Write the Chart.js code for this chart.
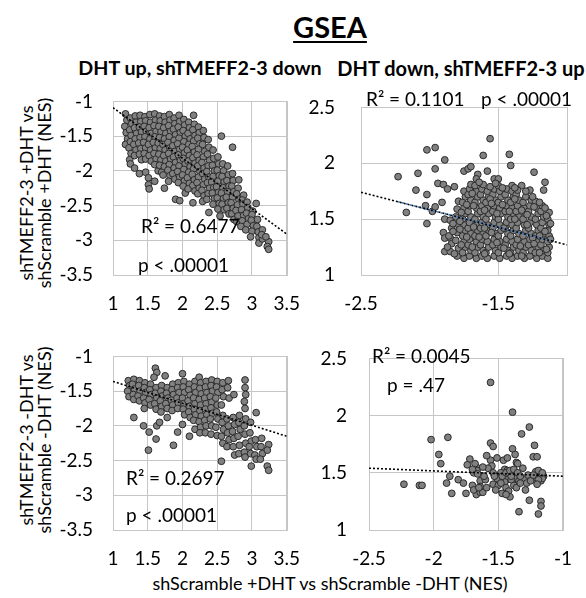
<!DOCTYPE html>
<html>
<head>
<meta charset="utf-8">
<script src="https://cdn.jsdelivr.net/npm/chart.js@4.4.0/dist/chart.umd.min.js"></script>
<style>
  body { margin:0; width:586px; height:598px; overflow:hidden; background:#fff; position:relative; font-family:Lato, 'Open Sans', sans-serif; color:#000; }
  canvas { position:absolute; }
  .t { position:absolute; white-space:nowrap; line-height:1; }
  .c { transform:translateX(-50%); }
  .rot { transform:translate(-50%,-50%) rotate(-90deg); text-align:center; line-height:18px; font-size:18px; }
  .note { font-size:19px; }
</style>
</head>
<body>
<div class="t c" style="left:330px;top:12px;font-size:29px;font-weight:bold;text-decoration:underline;text-decoration-thickness:2px;text-underline-offset:3px">GSEA</div>
<div class="t c" style="left:200px;top:58px;font-size:19.7px;font-weight:bold">DHT up, shTMEFF2-3 down</div>
<div class="t c" style="left:461px;top:58px;font-size:20px;font-weight:bold">DHT down, shTMEFF2-3 up</div>
<div class="t rot" style="left:35px;top:193px">shTMEFF2-3 +DHT vs<br>shScramble +DHT (NES)</div>
<div class="t rot" style="left:35px;top:440px">shTMEFF2-3 -DHT vs<br>shScramble -DHT (NES)</div>
<div class="t c" style="left:330px;top:574px;font-size:18px">shScramble +DHT vs shScramble -DHT (NES)</div>

<canvas id="tl" width="264" height="250" style="left:53px;top:70px"></canvas>
<canvas id="tr" width="286" height="250" style="left:301px;top:70px"></canvas>
<canvas id="bl" width="264" height="250" style="left:53px;top:325px"></canvas>
<canvas id="br" width="280" height="250" style="left:309px;top:325px"></canvas>

<div class="t note" style="left:141px;top:216px">R² = 0.6477</div>
<div class="t note" style="left:138px;top:255px">p &lt; .00001</div>
<div class="t note" style="left:366px;top:89px">R² = 0.1101</div>
<div class="t note" style="left:481px;top:89px">p &lt; .00001</div>
<div class="t note" style="left:126px;top:468px">R² = 0.2697</div>
<div class="t note" style="left:126px;top:505px">p &lt; .00001</div>
<div class="t note" style="left:372px;top:346px">R² = 0.0045</div>
<div class="t note" style="left:387px;top:375px">p = .47</div>

<script>
// tick labels
const xTicksPos = [1, 1.5, 2, 2.5, 3, 3.5];
const yTicksNeg = [-3.5, -3, -2.5, -2, -1.5, -1];
const xTicksTopRight = [-2.5, -1.5];
const xTicksBottomRight = [-2.5, -2, -1.5, -1];
const yTicksPos = [1, 1.5, 2, 2.5];

// DHT up, shTMEFF2-3 down, +DHT
const upPlusDht = [
[1.18,-1.18],[1.20,-1.27],[1.17,-1.36],[1.19,-1.45],[1.21,-1.54],[1.18,-1.62],
[1.25,-1.24],[1.27,-1.32],[1.24,-1.41],[1.26,-1.49],[1.25,-1.58],[1.23,-1.67],[1.26,-1.75],[1.24,-1.84],[1.25,-1.90],
[1.32,-1.21],[1.33,-1.30],[1.31,-1.38],[1.34,-1.46],[1.32,-1.54],[1.30,-1.62],[1.33,-1.70],[1.31,-1.78],[1.31,-1.96],
[1.39,-1.20],[1.40,-1.29],[1.38,-1.37],[1.41,-1.44],[1.39,-1.52],[1.37,-1.60],[1.40,-1.68],[1.38,-1.76],[1.41,-1.84],[1.38,-2.04],
[1.46,-1.22],[1.47,-1.28],[1.45,-1.36],[1.48,-1.43],[1.46,-1.51],[1.44,-1.59],[1.47,-1.67],[1.45,-1.75],[1.47,-1.83],[1.47,-2.02],
[1.53,-1.19],[1.54,-1.30],[1.52,-1.38],[1.55,-1.46],[1.53,-1.54],[1.51,-1.62],[1.54,-1.70],[1.52,-1.78],[1.55,-1.86],[1.51,-2.10],[1.51,-2.20],[1.52,-2.26],
[1.60,-1.18],[1.61,-1.27],[1.59,-1.35],[1.62,-1.43],[1.60,-1.51],[1.58,-1.59],[1.61,-1.67],[1.59,-1.75],[1.62,-1.83],[1.60,-1.91],[1.65,-2.00],[1.60,-2.15],
[1.67,-1.21],[1.68,-1.28],[1.66,-1.36],[1.69,-1.44],[1.67,-1.52],[1.65,-1.60],[1.68,-1.68],[1.66,-1.76],[1.69,-1.84],[1.67,-1.92],[1.70,-2.02],
[1.74,-1.22],[1.75,-1.30],[1.73,-1.38],[1.76,-1.46],[1.74,-1.54],[1.72,-1.62],[1.75,-1.70],[1.73,-1.78],[1.76,-1.86],[1.74,-1.94],[1.72,-2.06],[1.74,-2.25],
[1.81,-1.19],[1.82,-1.27],[1.80,-1.35],[1.83,-1.43],[1.81,-1.51],[1.79,-1.59],[1.82,-1.67],[1.80,-1.75],[1.83,-1.83],[1.81,-1.91],[1.79,-1.99],[1.82,-2.07],[1.80,-2.15],
[1.88,-1.24],[1.89,-1.32],[1.87,-1.40],[1.90,-1.48],[1.88,-1.56],[1.86,-1.64],[1.89,-1.72],[1.87,-1.80],[1.90,-1.88],[1.88,-1.96],[1.86,-2.04],[1.89,-2.12],[1.90,-2.41],
[1.95,-1.20],[1.96,-1.29],[1.94,-1.37],[1.97,-1.45],[1.95,-1.53],[1.93,-1.61],[1.96,-1.69],[1.94,-1.77],[1.97,-1.85],[1.95,-1.93],[1.93,-2.01],[1.96,-2.09],[1.94,-2.17],[1.96,-2.43],
[2.02,-1.26],[2.03,-1.34],[2.01,-1.42],[2.04,-1.50],[2.02,-1.58],[2.00,-1.66],[2.03,-1.74],[2.01,-1.82],[2.04,-1.90],[2.02,-1.98],[2.00,-2.06],[2.03,-2.14],[2.01,-2.22],[2.04,-2.32],
[2.09,-1.30],[2.10,-1.38],[2.08,-1.46],[2.11,-1.54],[2.09,-1.62],[2.07,-1.70],[2.10,-1.78],[2.08,-1.86],[2.11,-1.94],[2.09,-2.02],[2.07,-2.10],[2.10,-2.18],[2.08,-2.26],
[2.16,-1.20],[2.17,-1.33],[2.15,-1.41],[2.18,-1.49],[2.16,-1.57],[2.14,-1.65],[2.17,-1.73],[2.15,-1.81],[2.18,-1.89],[2.16,-1.97],[2.14,-2.05],[2.17,-2.13],[2.15,-2.21],[2.18,-2.29],[2.15,-2.46],
[2.23,-1.37],[2.24,-1.45],[2.22,-1.53],[2.25,-1.61],[2.23,-1.69],[2.21,-1.77],[2.24,-1.85],[2.22,-1.93],[2.25,-2.01],[2.23,-2.09],[2.21,-2.17],[2.24,-2.25],[2.22,-2.33],
[2.30,-1.42],[2.31,-1.52],[2.29,-1.62],[2.32,-1.72],[2.30,-1.80],[2.28,-1.88],[2.31,-1.96],[2.29,-2.04],[2.32,-2.12],[2.30,-2.20],[2.28,-2.28],[2.31,-2.36],[2.29,-2.44],
[2.37,-1.55],[2.38,-1.66],[2.36,-1.76],[2.39,-1.85],[2.37,-1.93],[2.35,-2.01],[2.38,-2.09],[2.36,-2.17],[2.39,-2.25],[2.37,-2.33],[2.35,-2.41],[2.38,-2.60],
[2.44,-1.70],[2.45,-1.82],[2.43,-1.92],[2.46,-2.00],[2.44,-2.08],[2.42,-2.16],[2.45,-2.24],[2.43,-2.32],[2.46,-2.40],[2.44,-2.48],
[2.56,-1.50],[2.51,-1.80],[2.52,-1.90],[2.50,-1.99],[2.53,-2.07],[2.51,-2.15],[2.49,-2.23],[2.52,-2.31],[2.50,-2.39],[2.53,-2.47],[2.51,-2.55],[2.54,-2.65],
[2.58,-1.90],[2.59,-2.00],[2.57,-2.08],[2.60,-2.16],[2.58,-2.24],[2.56,-2.32],[2.59,-2.40],[2.57,-2.48],[2.60,-2.56],
[2.72,-1.66],[2.65,-1.93],[2.66,-2.06],[2.64,-2.14],[2.67,-2.22],[2.65,-2.30],[2.63,-2.38],[2.66,-2.46],[2.64,-2.54],[2.67,-2.62],
[2.72,-2.04],[2.73,-2.14],[2.71,-2.22],[2.74,-2.30],[2.72,-2.38],[2.70,-2.46],[2.73,-2.54],[2.71,-2.62],[2.74,-2.70],
[2.81,-2.13],[2.80,-2.25],[2.78,-2.33],[2.81,-2.41],[2.79,-2.49],[2.77,-2.57],[2.80,-2.65],[2.78,-2.73],
[2.88,-2.35],[2.86,-2.42],[2.87,-2.48],[2.85,-2.56],[2.88,-2.64],[2.86,-2.72],[2.84,-2.80],
[2.93,-2.45],[2.94,-2.53],[2.92,-2.61],[2.95,-2.69],[2.93,-2.77],[2.91,-2.85],
[3.06,-2.47],[3.01,-2.58],[3.00,-2.63],[2.99,-2.71],[3.02,-2.79],[3.00,-2.87],[2.98,-2.95],
[3.08,-2.70],[3.07,-2.80],[3.09,-2.88],[3.10,-2.96],[3.10,-3.04],
[3.15,-2.85],[3.15,-2.98],[3.14,-2.92],
[3.24,-3.02],[3.22,-3.09],[3.24,-3.13],[3.20,-2.95]
];

// DHT down, shTMEFF2-3 up, +DHT
const downPlusDht = [
[-2.23,1.88],[-2.085,1.91],[-2.02,2.12],[-1.96,2.14],[-1.89,2.03],[-1.96,1.95],[-2.10,1.76],[-2.02,1.72],
[-2.17,1.56],[-1.98,1.57],[-2.02,1.46],[-1.91,1.65],[-1.94,1.82],[-1.90,1.81],[-1.87,1.77],[-1.82,1.79],
[-1.75,1.93],[-1.72,1.95],[-1.70,1.97],[-1.65,1.90],[-1.61,2.07],[-1.56,2.22],[-1.58,1.93],[-1.53,1.86],
[-1.50,1.86],[-1.42,2.08],[-1.41,1.98],[-1.40,1.80],[-1.33,1.80],[-1.24,1.92],[-1.16,1.83],[-1.17,1.76],
[-1.27,1.76],[-1.96,1.61],[-1.89,1.50],[-1.90,1.38],[-1.89,1.33],[-1.85,1.33],[-1.89,1.21],[-2.03,1.62],
[-1.85,1.21],[-1.84,1.28],[-1.86,1.35],[-1.84,1.42],[-1.85,1.49],
[-1.80,1.17],[-1.79,1.24],[-1.81,1.31],[-1.80,1.38],[-1.79,1.45],[-1.81,1.52],[-1.80,1.59],[-1.79,1.66],
[-1.75,1.15],[-1.76,1.20],[-1.74,1.25],[-1.75,1.30],[-1.76,1.35],[-1.74,1.40],[-1.75,1.45],[-1.76,1.50],[-1.74,1.55],[-1.75,1.60],[-1.76,1.65],[-1.74,1.70],[-1.75,1.75],
[-1.71,1.17],[-1.70,1.22],[-1.72,1.27],[-1.71,1.32],[-1.70,1.37],[-1.72,1.42],[-1.71,1.47],[-1.70,1.52],[-1.72,1.57],[-1.71,1.62],[-1.70,1.67],[-1.72,1.72],[-1.71,1.77],[-1.70,1.81],
[-1.66,1.15],[-1.67,1.20],[-1.65,1.25],[-1.66,1.30],[-1.67,1.35],[-1.65,1.40],[-1.66,1.45],[-1.67,1.50],[-1.65,1.55],[-1.66,1.60],[-1.67,1.65],[-1.65,1.70],[-1.66,1.75],[-1.67,1.80],[-1.66,1.86],
[-1.62,1.17],[-1.61,1.22],[-1.63,1.27],[-1.62,1.32],[-1.61,1.37],[-1.63,1.42],[-1.62,1.47],[-1.61,1.52],[-1.63,1.57],[-1.62,1.62],[-1.61,1.67],[-1.63,1.72],[-1.62,1.77],[-1.61,1.81],
[-1.58,1.15],[-1.59,1.20],[-1.57,1.25],[-1.58,1.30],[-1.59,1.35],[-1.57,1.40],[-1.58,1.45],[-1.59,1.50],[-1.57,1.55],[-1.58,1.60],[-1.59,1.65],[-1.57,1.70],[-1.58,1.75],
[-1.53,1.17],[-1.52,1.22],[-1.54,1.27],[-1.53,1.32],[-1.52,1.37],[-1.54,1.42],[-1.53,1.47],[-1.52,1.52],[-1.54,1.57],[-1.53,1.62],[-1.52,1.67],[-1.54,1.72],[-1.53,1.77],
[-1.49,1.15],[-1.50,1.20],[-1.48,1.25],[-1.49,1.30],[-1.50,1.35],[-1.48,1.40],[-1.49,1.45],[-1.50,1.50],[-1.48,1.55],[-1.49,1.60],[-1.50,1.65],[-1.48,1.70],[-1.49,1.75],[-1.50,1.80],
[-1.44,1.17],[-1.43,1.22],[-1.45,1.27],[-1.44,1.32],[-1.43,1.37],[-1.45,1.42],[-1.44,1.47],[-1.43,1.52],[-1.45,1.57],[-1.44,1.62],[-1.43,1.67],[-1.45,1.72],[-1.44,1.77],
[-1.40,1.15],[-1.41,1.20],[-1.39,1.25],[-1.40,1.30],[-1.41,1.35],[-1.39,1.40],[-1.40,1.45],[-1.41,1.50],[-1.39,1.55],[-1.40,1.60],[-1.41,1.65],[-1.39,1.70],[-1.40,1.75],
[-1.36,1.17],[-1.35,1.22],[-1.37,1.27],[-1.36,1.32],[-1.35,1.37],[-1.37,1.42],[-1.36,1.47],[-1.35,1.52],[-1.37,1.57],[-1.36,1.62],[-1.35,1.67],[-1.37,1.72],[-1.36,1.76],
[-1.31,1.15],[-1.32,1.20],[-1.30,1.25],[-1.31,1.30],[-1.32,1.35],[-1.30,1.40],[-1.31,1.45],[-1.32,1.50],[-1.30,1.55],[-1.31,1.60],[-1.32,1.65],[-1.30,1.70],
[-1.27,1.17],[-1.26,1.22],[-1.28,1.27],[-1.27,1.32],[-1.26,1.37],[-1.28,1.42],[-1.27,1.47],[-1.26,1.52],[-1.28,1.57],[-1.27,1.62],[-1.26,1.67],
[-1.22,1.15],[-1.23,1.20],[-1.21,1.25],[-1.22,1.30],[-1.23,1.35],[-1.21,1.40],[-1.22,1.45],[-1.23,1.50],[-1.21,1.55],[-1.22,1.60],[-1.23,1.66],
[-1.18,1.17],[-1.17,1.22],[-1.19,1.27],[-1.18,1.32],[-1.17,1.37],[-1.19,1.42],[-1.18,1.47],[-1.17,1.52],[-1.19,1.57],[-1.18,1.62],
[-1.14,1.15],[-1.14,1.20],[-1.13,1.25],[-1.14,1.30],[-1.13,1.35],[-1.14,1.40],[-1.13,1.45],[-1.14,1.50],[-1.13,1.56],
[-1.82,1.19],[-1.77,1.27],[-1.83,1.39],[-1.78,1.48],[-1.77,1.56],[-1.73,1.63],[-1.69,1.73],[-1.68,1.43],[-1.64,1.34],
[-1.60,1.58],[-1.56,1.68],[-1.55,1.38],[-1.51,1.29],[-1.47,1.63],[-1.46,1.42],[-1.42,1.19],[-1.38,1.50],[-1.34,1.26],
[-1.33,1.58],[-1.29,1.45],[-1.25,1.33],[-1.24,1.61],[-1.20,1.20],[-1.16,1.39],[-1.15,1.53],[-1.12,1.32],[-1.12,1.46],
[-1.56,1.79],[-1.47,1.78],[-1.38,1.78],[-1.64,1.83],[-1.52,1.82],[-1.69,1.25],[-1.60,1.19],[-1.46,1.24],[-1.33,1.17],
[-1.24,1.28],[-1.15,1.23],[-1.20,1.35],[-1.29,1.54],[-1.42,1.57],[-1.51,1.55],[-1.60,1.42],[-1.73,1.34],[-1.78,1.41],
[-1.87,1.25],[-1.83,1.46],[-1.68,1.62],[-1.55,1.64],[-1.38,1.68],[-1.25,1.70],[-1.20,1.65],[-1.16,1.60],[-1.30,1.75]
];

// DHT up, shTMEFF2-3 down, -DHT
const upMinusDht = [
[1.22,-1.35],[1.24,-1.42],[1.21,-1.50],[1.23,-1.58],
[1.30,-1.33],[1.28,-1.40],[1.31,-1.47],[1.29,-1.55],[1.30,-1.62],[1.30,-1.88],
[1.38,-1.35],[1.37,-1.42],[1.39,-1.50],[1.36,-1.57],[1.38,-1.64],
[1.46,-1.38],[1.45,-1.45],[1.47,-1.52],[1.44,-1.60],[1.46,-1.67],[1.45,-1.75],[1.44,-2.00],
[1.54,-1.40],[1.53,-1.48],[1.55,-1.55],[1.52,-1.62],[1.54,-1.70],[1.52,-2.09],[1.51,-2.35],
[1.61,-1.17],[1.63,-1.23],[1.59,-1.30],[1.62,-1.45],[1.61,-1.53],[1.63,-1.60],[1.60,-1.68],[1.62,-1.76],[1.62,-2.19],[1.63,-2.00],
[1.70,-1.42],[1.69,-1.50],[1.71,-1.57],[1.68,-1.64],[1.70,-1.72],[1.69,-1.80],[1.67,-1.95],
[1.75,-1.28],[1.78,-1.45],[1.77,-1.53],[1.79,-1.60],[1.76,-1.68],[1.78,-1.75],[1.78,-1.88],
[1.86,-1.40],[1.85,-1.48],[1.87,-1.55],[1.84,-1.63],[1.86,-1.70],[1.85,-1.78],[1.87,-2.28],
[1.94,-1.38],[1.93,-1.45],[1.95,-1.52],[1.92,-1.60],[1.94,-1.67],[1.93,-1.75],[1.93,-2.09],
[2.00,-1.25],[2.02,-1.36],[2.01,-1.44],[2.03,-1.52],[2.00,-1.60],[2.02,-1.68],[2.01,-1.76],[2.03,-1.84],[2.00,-1.98],
[2.10,-1.40],[2.09,-1.48],[2.11,-1.56],[2.08,-1.64],[2.10,-1.72],[2.09,-1.80],[2.11,-1.88],[2.10,-2.15],
[2.18,-1.36],[2.17,-1.44],[2.19,-1.52],[2.16,-1.60],[2.18,-1.68],[2.17,-1.76],[2.19,-1.84],[2.16,-1.92],[2.18,-2.05],
[2.24,-1.30],[2.26,-1.38],[2.25,-1.46],[2.27,-1.54],[2.24,-1.62],[2.26,-1.70],[2.25,-1.78],[2.27,-1.86],[2.24,-1.94],[2.26,-2.02],[2.25,-2.10],
[2.34,-1.36],[2.33,-1.44],[2.35,-1.52],[2.32,-1.60],[2.34,-1.68],[2.33,-1.76],[2.35,-1.84],[2.32,-1.92],[2.34,-2.00],[2.33,-2.10],
[2.42,-1.34],[2.41,-1.42],[2.43,-1.50],[2.40,-1.58],[2.42,-1.66],[2.41,-1.74],[2.43,-1.82],[2.40,-1.90],[2.42,-2.00],[2.41,-2.12],
[2.50,-1.36],[2.49,-1.44],[2.51,-1.52],[2.48,-1.60],[2.50,-1.70],[2.49,-1.80],[2.51,-1.90],[2.48,-2.02],[2.50,-2.14],
[2.58,-1.38],[2.57,-1.48],[2.59,-1.58],[2.56,-1.70],[2.58,-1.85],[2.57,-1.95],[2.59,-2.05],[2.56,-2.15],[2.58,-2.25],[2.56,-2.51],
[2.66,-1.35],[2.65,-1.45],[2.67,-1.60],[2.64,-1.90],[2.66,-2.00],[2.65,-2.10],[2.67,-2.20],[2.64,-2.30],
[2.74,-1.55],[2.73,-1.88],[2.75,-1.98],[2.72,-2.08],[2.74,-2.18],[2.73,-2.30],[2.75,-2.42],
[2.82,-1.85],[2.81,-1.95],[2.83,-2.05],[2.80,-2.15],[2.82,-2.28],[2.81,-2.40],
[2.90,-1.34],[2.90,-1.45],[2.91,-1.55],[2.89,-1.65],[2.90,-1.75],[2.91,-1.90],[2.89,-2.00],[2.90,-2.12],[2.91,-2.25],[2.89,-2.38],[2.90,-2.45],
[2.98,-1.95],[2.97,-2.10],[2.99,-2.22],[2.96,-2.30],[2.98,-2.40],[2.99,-2.58],
[3.06,-1.81],[3.05,-2.20],[3.07,-2.30],[3.04,-2.42],[3.06,-2.48],
[3.14,-2.18],[3.13,-2.30],[3.15,-2.40],[3.12,-2.48],
[3.24,-2.27],[3.22,-2.35],[3.22,-2.58],[3.24,-2.64]
];

// DHT down, shTMEFF2-3 up, -DHT
const downMinusDht = [
[-2.23,1.40],[-2.11,1.39],[-2.09,1.39],[-2.02,1.79],[-1.89,1.81],[-1.96,1.66],[-1.945,1.58],[-1.875,1.47],
[-1.90,1.41],[-1.86,1.32],[-1.81,1.44],[-1.77,1.41],[-1.75,1.32],[-1.70,1.39],[-1.72,1.62],[-1.74,1.57],
[-1.67,1.55],[-1.665,1.52],[-1.69,1.50],[-1.66,1.49],[-1.68,1.58],[-1.67,1.31],[-1.64,1.33],[-1.62,1.33],
[-1.64,1.43],[-1.64,1.38],[-1.59,1.37],[-1.56,1.61],[-1.56,2.29],[-1.56,1.76],[-1.54,1.73],[-1.55,1.56],
[-1.54,1.50],[-1.51,1.45],[-1.54,1.40],[-1.51,1.63],[-1.50,1.39],[-1.46,1.61],[-1.45,1.53],[-1.43,1.52],
[-1.42,1.48],[-1.46,1.45],[-1.43,1.44],[-1.45,1.42],[-1.44,1.37],[-1.42,1.34],[-1.41,1.29],[-1.43,1.63],
[-1.39,2.03],[-1.39,1.71],[-1.37,1.66],[-1.36,1.59],[-1.39,1.50],[-1.37,1.48],[-1.36,1.45],[-1.34,1.43],
[-1.38,1.39],[-1.36,1.37],[-1.40,1.44],[-1.35,1.58],[-1.32,1.84],[-1.31,1.54],[-1.30,1.44],[-1.29,1.35],
[-1.34,1.16],[-1.26,1.90],[-1.26,1.26],[-1.22,1.74],[-1.23,1.64],[-1.20,1.64],[-1.21,1.51],[-1.19,1.52],
[-1.24,1.45],[-1.21,1.46],[-1.18,1.46],[-1.15,1.47],[-1.17,1.43],[-1.16,1.45],[-1.19,1.44],[-1.17,1.25],
[-1.17,1.21],[-1.19,1.14],[-1.27,1.48],[-1.33,1.41],[-1.60,1.44],[-1.61,1.47],
[-1.48,1.50],[-1.47,1.47],[-1.44,1.50],[-1.41,1.52],[-1.40,1.47],[-1.38,1.53],[-1.35,1.50],[-1.33,1.47],
[-1.28,1.41],[-1.25,1.43],[-1.23,1.48],[-1.20,1.40],[-1.16,1.50],[-1.53,1.47],[-1.58,1.54],[-1.48,1.41],
[-1.52,1.35],[-1.47,1.32],[-1.44,1.31],[-1.70,1.53],[-1.62,1.55],[-1.69,1.35],[-1.59,1.65],[-1.65,1.37]
];

// dotted trend lines (end points)
const trendUpPlus = [[1, -1.09], [3.5, -2.91]];
const trendDownPlus = [[-2.5, 1.74], [-1, 1.27]];
const trendDownPlusBlue = [[-2.23, 1.655], [-1.12, 1.308]];
const trendUpMinus = [[1, -1.36], [3.5, -2.15]];
const trendDownMinus = [[-2.5, 1.54], [-1, 1.47]];

const FONT = "Lato, 'Open Sans', sans-serif";
const GRID = '#c6c6c6';

const frame = {
  id: 'frame',
  beforeDatasetsDraw(chart) {
    const a = chart.chartArea, ctx = chart.ctx;
    ctx.save();
    ctx.strokeStyle = GRID;
    ctx.lineWidth = 1;
    ctx.strokeRect(Math.round(a.left) + 0.5, Math.round(a.top) + 0.5, Math.round(a.right - a.left), Math.round(a.bottom - a.top));
    ctx.restore();
  }
};

const toXY = arr => arr.map(p => ({ x: p[0], y: p[1] }));

function trendSet(pts, color) {
  return { data: toXY(pts), showLine: true, borderColor: color, borderWidth: 1.6, borderDash: [2, 2], pointRadius: 0, fill: false };
}

function axis(min, max, ticks, isX, pad) {
  return {
    type: 'linear', min, max,
    afterBuildTicks: s => { s.ticks = ticks.map(v => ({ value: v })); },
    afterFit: s => { if (isX) s.height = 45; else s.width = 60; },
    grid: { display: true, drawOnChartArea: true, color: GRID, drawTicks: false, lineWidth: 1 },
    border: { display: false },
    ticks: { padding: pad, color: '#000', font: { family: FONT, size: 19 }, callback: v => String(v) }
  };
}

function panel(id, pts, trends, xr, yr, xTicks, yTicks, yPad) {
  const datasets = trends.map(t => trendSet(t[0], t[1]));
  datasets.push({
    data: toXY(pts),
    pointRadius: 3.4,
    pointBackgroundColor: '#808080',
    pointBorderColor: '#2b2b2b',
    pointBorderWidth: 1
  });
  new Chart(document.getElementById(id), {
    type: 'scatter',
    data: { datasets },
    options: {
      responsive: false, animation: false, events: [],
      layout: { padding: { top: 15, right: 20, left: 0, bottom: 0 } },
      plugins: { legend: { display: false }, tooltip: { enabled: false } },
      scales: {
        x: axis(xr[0], xr[1], xTicks, true, 17),
        y: axis(yr[0], yr[1], yTicks, false, yPad)
      }
    },
    plugins: [frame]
  });
}

panel('tl', upPlusDht, [[trendUpPlus, '#000']], [1, 3.5], [-3.5, -1], xTicksPos, yTicksNeg, 20);
panel('tr', downPlusDht, [[trendDownPlusBlue, '#4a78b0'], [trendDownPlus, '#000']], [-2.5, -1], [1, 2.5], xTicksTopRight, yTicksPos, 26);
panel('bl', upMinusDht, [[trendUpMinus, '#000']], [1, 3.5], [-3.5, -1], xTicksPos, yTicksNeg, 20);
panel('br', downMinusDht, [[trendDownMinus, '#000']], [-2.5, -1], [1, 2.5], xTicksBottomRight, yTicksPos, 22);
</script>
</body>
</html>
